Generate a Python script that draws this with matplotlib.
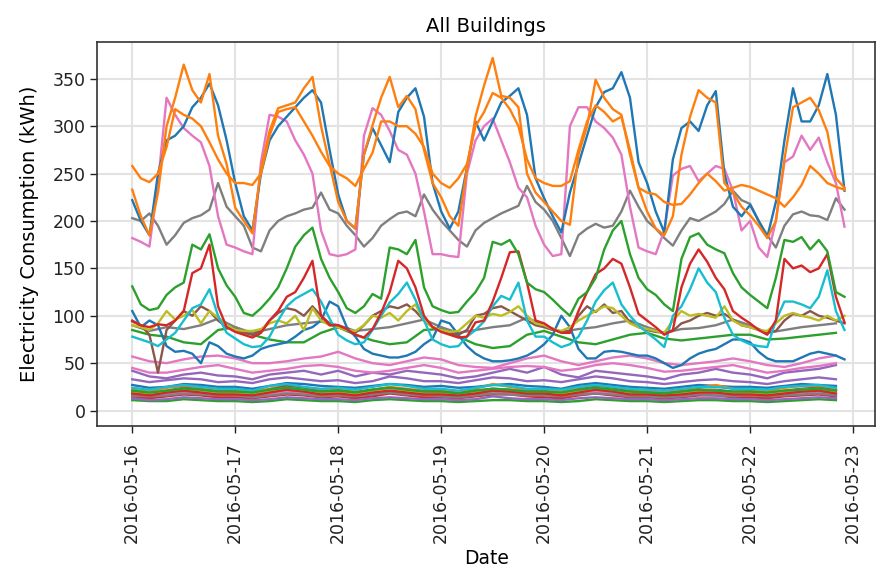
import numpy as np
import pandas as pd
import matplotlib
matplotlib.use("Agg")
import matplotlib.pyplot as plt
import matplotlib.dates as mdates

# timestamps: main buildings read every 2 hours, small ones every 4 hours
t2 = pd.date_range("2016-05-16", periods=84, freq="2h")
t4 = pd.date_range("2016-05-16", periods=42, freq="4h")

# ---- large buildings (2h readings) ----
blue_hi = [222, 200, 185, 250, 285, 290, 300, 320, 330, 345, 322, 285,
           240, 205, 190, 250, 285, 300, 310, 320, 330, 338, 325, 275,
           228, 200, 192, 270, 298, 280, 262, 315, 330, 340, 310, 240,
           210, 192, 210, 256, 305, 285, 305, 325, 332, 340, 312, 245,
           224, 205, 188, 230, 260, 290, 320, 336, 340, 357, 330, 262,
           240, 210, 188, 265, 298, 305, 295, 322, 337, 250, 215, 205,
           217, 200, 183, 220, 285, 340, 305, 305, 322, 355, 312, 232]
orange_a = [233, 205, 185, 230, 300, 330, 365, 338, 325, 355, 290, 260,
            214, 200, 187, 255, 295, 319, 322, 325, 340, 352, 300, 260,
            220, 200, 192, 270, 301, 330, 352, 320, 332, 318, 275, 240,
            225, 205, 195, 255, 310, 343, 372, 332, 330, 320, 250, 230,
            220, 210, 200, 196, 270, 300, 349, 330, 318, 312, 270, 235,
            210, 192, 185, 205, 270, 310, 338, 330, 325, 240, 230, 215,
            206, 195, 182, 200, 265, 320, 325, 330, 317, 294, 245, 235]
orange_b = [258, 245, 241, 250, 278, 318, 312, 308, 300, 283, 265, 250,
            240, 240, 238, 250, 290, 315, 318, 320, 305, 290, 273, 258,
            250, 245, 237, 255, 272, 305, 305, 300, 300, 292, 278, 250,
            240, 235, 245, 260, 300, 315, 335, 330, 318, 300, 265, 245,
            240, 237, 237, 242, 275, 305, 322, 315, 305, 310, 275, 235,
            230, 228, 220, 217, 218, 228, 240, 250, 242, 232, 235, 238,
            236, 232, 228, 224, 215, 225, 238, 258, 250, 240, 236, 233]
pink_hi = [182, 178, 173, 240, 330, 312, 298, 290, 283, 258, 205, 175,
           172, 168, 165, 262, 312, 310, 305, 285, 270, 250, 190, 165,
           163, 165, 170, 290, 319, 312, 295, 275, 270, 250, 210, 165,
           165, 163, 162, 250, 285, 300, 308, 285, 262, 235, 225, 195,
           175, 163, 165, 300, 320, 320, 305, 298, 288, 270, 215, 172,
           168, 165, 190, 248, 255, 258, 242, 250, 258, 255, 232, 190,
           200, 172, 162, 200, 262, 268, 290, 275, 288, 262, 240, 194]
gray_hi = [203, 200, 208, 195, 175, 185, 198, 203, 206, 212, 240, 215,
           205, 195, 172, 168, 190, 200, 205, 208, 212, 214, 230, 212,
           208, 195, 185, 173, 182, 195, 202, 208, 210, 205, 228, 212,
           200, 190, 180, 173, 190, 198, 203, 208, 212, 216, 237, 220,
           212, 200, 182, 163, 185, 192, 197, 193, 195, 210, 232, 215,
           200, 192, 182, 174, 190, 203, 200, 205, 210, 218, 232, 222,
           218, 200, 185, 172, 195, 207, 210, 206, 205, 201, 224, 212]

# ---- medium buildings (2h readings) ----
green_mid = [131, 112, 106, 108, 122, 130, 135, 175, 170, 186, 150, 132,
             120, 103, 100, 108, 118, 130, 150, 173, 185, 193, 160, 140,
             125, 108, 103, 110, 123, 118, 172, 170, 165, 180, 130, 110,
             106, 103, 104, 115, 125, 140, 178, 175, 180, 165, 135, 128,
             125, 117, 108, 100, 118, 125, 140, 170, 190, 200, 165, 140,
             128, 122, 112, 105, 160, 183, 187, 175, 170, 166, 145, 130,
             122, 115, 108, 140, 180, 178, 183, 170, 180, 168, 125, 120]
red_mid = [94, 90, 88, 91, 90, 95, 105, 145, 150, 175, 110, 88,
           83, 80, 77, 82, 95, 105, 120, 125, 140, 158, 100, 90,
           90, 86, 80, 77, 86, 103, 125, 158, 150, 130, 100, 88,
           83, 80, 77, 78, 93, 95, 115, 140, 167, 168, 135, 95,
           92, 86, 82, 82, 105, 125, 144, 150, 160, 155, 130, 102,
           95, 88, 80, 85, 130, 155, 170, 157, 140, 128, 105, 98,
           92, 85, 80, 95, 160, 150, 153, 146, 150, 165, 120, 93]
cyan_mid = [78, 75, 72, 68, 75, 82, 95, 108, 112, 128, 100, 82,
            76, 70, 67, 68, 78, 95, 110, 118, 123, 128, 115, 97,
            80, 74, 70, 72, 85, 100, 114, 123, 135, 117, 95, 75,
            70, 67, 68, 78, 85, 94, 110, 121, 117, 135, 95, 78,
            78, 72, 67, 70, 78, 95, 115, 127, 135, 112, 100, 90,
            82, 75, 67, 100, 110, 128, 150, 135, 125, 98, 80, 74,
            70, 68, 67, 95, 115, 115, 112, 108, 120, 148, 105, 85]
olive_mid = [90, 88, 85, 92, 105, 96, 100, 106, 92, 105, 98, 90,
             85, 84, 84, 86, 92, 95, 92, 100, 85, 108, 95, 90,
             88, 85, 84, 90, 100, 98, 103, 95, 105, 112, 95, 88,
             85, 83, 84, 92, 100, 98, 102, 100, 104, 110, 100, 92,
             90, 86, 84, 88, 95, 100, 105, 110, 108, 100, 92, 88,
             86, 84, 82, 95, 105, 100, 102, 100, 98, 110, 95, 90,
             88, 85, 84, 92, 100, 103, 100, 98, 95, 100, 95, 100]
brown_mid = [95, 90, 80, 40, 85, 95, 105, 100, 110, 105, 95, 88,
             85, 82, 80, 84, 95, 103, 108, 106, 100, 110, 100, 92,
             88, 85, 82, 90, 100, 105, 110, 108, 112, 105, 95, 88,
             85, 82, 80, 85, 100, 102, 108, 110, 105, 100, 95, 90,
             88, 85, 83, 84, 100, 110, 104, 112, 103, 105, 93, 88,
             85, 83, 82, 84, 92, 95, 100, 103, 100, 102, 96, 90,
             88, 85, 82, 84, 95, 102, 100, 105, 100, 98, 95, 92]
blue_mid = [105, 88, 95, 90, 68, 62, 63, 60, 50, 72, 68, 60,
            57, 55, 58, 65, 68, 70, 72, 78, 85, 88, 95, 115,
            110, 88, 78, 65, 60, 58, 56, 56, 58, 62, 70, 76,
            95, 92, 80, 68, 60, 55, 52, 52, 53, 55, 58, 63,
            70, 80, 100, 88, 65, 55, 55, 62, 63, 62, 60, 58,
            58, 55, 50, 45, 48, 55, 60, 63, 65, 70, 75, 75,
            72, 62, 55, 52, 52, 52, 56, 60, 62, 60, 58, 54]

# ---- medium buildings (4h readings) ----
gray_mid = [90, 84, 88, 86, 90, 97, 88, 82, 86, 90, 92, 94,
            90, 84, 86, 88, 92, 96, 88, 82, 85, 88, 90, 98,
            90, 83, 86, 88, 92, 95, 88, 82, 86, 87, 90, 96,
            90, 82, 85, 88, 90, 92]
green_low = [85, 80, 78, 72, 70, 85, 88, 80, 75, 72, 72, 82,
             88, 80, 74, 70, 72, 85, 86, 78, 70, 66, 68, 80,
             84, 78, 72, 70, 75, 80, 82, 76, 74, 76, 78, 80,
             80, 75, 76, 78, 80, 82]
pink_a = [57, 52, 50, 54, 57, 58, 55, 50, 50, 52, 55, 57,
          62, 55, 50, 48, 52, 56, 54, 48, 46, 45, 50, 55,
          58, 52, 48, 52, 56, 58, 55, 50, 48, 50, 52, 55,
          52, 48, 46, 50, 55, 58]
pink_b = [45, 40, 40, 43, 46, 48, 44, 40, 42, 44, 47, 48,
          46, 42, 40, 42, 45, 48, 45, 40, 42, 44, 46, 47,
          46, 42, 44, 48, 50, 48, 45, 41, 42, 44, 46, 48,
          44, 40, 42, 45, 47, 50]
purple_a = [42, 36, 34, 38, 40, 37, 36, 33, 38, 40, 42, 38,
            42, 36, 40, 38, 42, 40, 38, 34, 36, 40, 44, 40,
            46, 38, 35, 42, 40, 38, 36, 33, 38, 40, 44, 40,
            38, 34, 40, 42, 44, 48]
purple_b = [33, 30, 32, 34, 33, 30, 31, 29, 33, 35, 33, 31,
            32, 29, 31, 36, 34, 31, 31, 29, 32, 35, 34, 31,
            32, 30, 33, 36, 34, 31, 30, 28, 30, 32, 33, 31,
            30, 28, 31, 33, 35, 33]

# ---- small buildings (4h readings) ----
small_blue = [27, 24, 25, 28, 27, 25, 25, 23, 26, 29, 28, 26,
              25, 24, 26, 28, 27, 25, 26, 24, 25, 27, 28, 26,
              25, 23, 27, 29, 27, 25, 24, 23, 25, 27, 26, 25,
              25, 24, 26, 28, 27, 26]
small_orange = [22, 20, 24, 26, 23, 21, 21, 20, 23, 27, 24, 22,
                22, 20, 22, 25, 23, 21, 21, 19, 23, 28, 25, 22,
                22, 20, 24, 26, 24, 21, 21, 20, 22, 24, 27, 23,
                22, 20, 24, 26, 25, 22]
small_green = [11, 10, 10, 12, 11, 10, 10, 9, 10, 12, 11, 10,
               10, 9, 11, 12, 11, 10, 10, 9, 10, 11, 11, 10,
               10, 9, 10, 12, 11, 10, 10, 9, 10, 11, 11, 10,
               10, 9, 10, 11, 12, 11]
small_red = [14, 13, 15, 17, 16, 14, 14, 13, 15, 17, 16, 14,
             15, 13, 15, 18, 16, 14, 14, 13, 15, 17, 17, 15,
             14, 13, 16, 18, 16, 14, 14, 13, 14, 16, 16, 14,
             14, 13, 15, 16, 17, 15]
small_purple = [13, 11, 12, 14, 13, 12, 12, 11, 12, 14, 13, 12,
                12, 11, 13, 14, 13, 12, 12, 11, 12, 15, 13, 12,
                12, 11, 13, 14, 13, 12, 12, 11, 12, 13, 13, 12,
                12, 11, 12, 13, 14, 13]
small_brown = [20, 18, 21, 24, 22, 20, 20, 18, 22, 26, 23, 20,
               21, 19, 22, 24, 22, 20, 20, 18, 21, 23, 22, 20,
               20, 18, 22, 25, 23, 20, 19, 18, 20, 22, 22, 20,
               20, 18, 21, 23, 24, 21]
small_pink = [17, 16, 18, 20, 19, 17, 17, 15, 18, 20, 19, 17,
              17, 16, 18, 21, 19, 17, 17, 15, 18, 20, 19, 17,
              17, 16, 18, 20, 19, 17, 16, 15, 17, 18, 18, 17,
              17, 16, 18, 19, 20, 18]
small_gray = [16, 15, 16, 18, 17, 16, 16, 14, 16, 18, 17, 15,
              16, 15, 17, 19, 17, 16, 15, 14, 16, 18, 17, 16,
              16, 15, 17, 18, 17, 15, 15, 14, 15, 17, 16, 15,
              16, 15, 16, 17, 18, 16]
small_olive = [19, 17, 20, 23, 21, 19, 19, 17, 21, 24, 22, 19,
               20, 18, 21, 24, 21, 19, 19, 17, 20, 23, 22, 19,
               19, 17, 21, 24, 22, 19, 18, 17, 19, 21, 21, 19,
               19, 17, 20, 22, 23, 20]
small_cyan = [24, 22, 25, 27, 25, 23, 23, 21, 26, 28, 25, 23,
              24, 22, 25, 28, 26, 23, 23, 21, 24, 27, 26, 23,
              23, 22, 25, 27, 25, 23, 22, 21, 23, 25, 25, 23,
              23, 22, 25, 26, 27, 24]
small_red2 = [18, 16, 19, 21, 19, 17, 17, 16, 19, 22, 20, 17,
              18, 16, 19, 21, 19, 17, 17, 16, 18, 21, 20, 18,
              18, 16, 19, 22, 20, 17, 17, 16, 17, 19, 19, 17,
              17, 16, 18, 20, 21, 18]
small_green2 = [21, 19, 21, 23, 22, 20, 20, 19, 22, 24, 22, 20,
                21, 19, 22, 24, 22, 20, 20, 18, 21, 23, 22, 20,
                20, 19, 22, 24, 22, 20, 19, 18, 20, 22, 21, 20,
                20, 19, 21, 22, 23, 21]

C = plt.rcParams["axes.prop_cycle"].by_key()["color"]

lines_4h = [
    (small_blue, C[0]), (small_orange, C[1]), (small_green, C[2]),
    (small_red, C[3]), (small_purple, C[4]), (small_brown, C[5]),
    (small_pink, C[6]), (small_gray, C[7]), (small_olive, C[8]),
    (small_cyan, C[9]), (small_red2, C[3]), (small_green2, C[2]),
    (purple_b, C[4]), (purple_a, C[4]), (pink_b, C[6]), (pink_a, C[6]),
    (green_low, C[2]), (gray_mid, C[7]),
]
lines_2h = [
    (blue_mid, C[0]), (brown_mid, C[5]), (olive_mid, C[8]),
    (cyan_mid, C[9]), (red_mid, C[3]), (green_mid, C[2]),
    (gray_hi, C[7]), (pink_hi, C[6]), (blue_hi, C[0]),
    (orange_b, C[1]), (orange_a, C[1]),
]

fig = plt.figure(figsize=(8.76, 5.73), dpi=100)
ax = fig.add_axes([0.111, 0.257, 0.888, 0.670])

for vals, col in lines_4h:
    ax.plot(t4, vals, color=col, lw=1.7)
for vals, col in lines_2h:
    ax.plot(t2, vals, color=col, lw=1.7)

start = mdates.date2num(pd.Timestamp("2016-05-16"))
ax.set_xlim(start - 0.34, start + 7.214)
ax.set_ylim(-16, 389)
ax.set_yticks(range(0, 351, 50))
ax.xaxis.set_major_locator(mdates.DayLocator())
ax.xaxis.set_major_formatter(mdates.DateFormatter("%Y-%m-%d"))
ax.tick_params(axis="x", labelrotation=90, pad=7)
ax.tick_params(labelsize=12.5, length=5, width=1, colors="#222222")
ax.grid(True, color="#e3e3e3", lw=1.5)
ax.set_axisbelow(True)
for s in ax.spines.values():
    s.set_color("#333333")
    s.set_linewidth(1.2)

ax.set_title("All Buildings", fontsize=14, pad=7)
ax.set_ylabel("Electricity Consumption (kWh)", fontsize=14, labelpad=10)
ax.set_xlabel("Date", fontsize=13.5, labelpad=4)

fig.savefig("out.png", dpi=100)
